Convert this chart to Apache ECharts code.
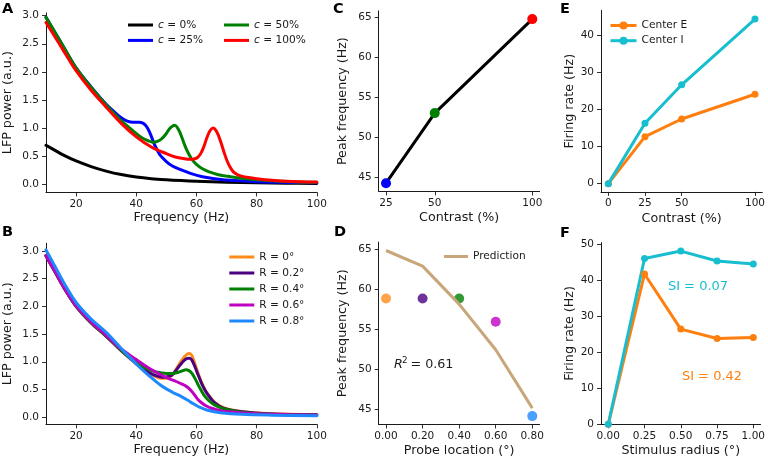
<!DOCTYPE html>
<html>
<head>
<meta charset="utf-8">
<script src="https://cdn.jsdelivr.net/npm/echarts@6/dist/echarts.min.js"></script>
<style>
html, body { margin: 0; padding: 0; background: #fff; }
#main { width: 768px; height: 461px; }
</style>
</head>
<body>
<div id="main"></div>
<script>
// A: LFP spectra for different contrasts  [frequency Hz, power a.u.]
const specC0 = [[10,0.69],[13,0.6],[16,0.51],[20,0.41],[25,0.31],[30,0.23],[35,0.168],[40,0.125],[45,0.095],[50,0.075],[55,0.06],[60,0.048],[70,0.031],[80,0.02],[90,0.014],[100,0.01]]
const specC25 = [[10,2.97],[13,2.7],[16,2.43],[20,2.07],[25,1.73],[30,1.42],[33,1.27],[35,1.18],[37,1.12],[39,1.1],[41,1.1],[42,1.09],[43,1.05],[44,0.97],[45,0.85],[46,0.71],[47,0.6],[48,0.51],[50,0.4],[52,0.32],[55,0.25],[58,0.19],[62,0.13],[66,0.095],[70,0.07],[80,0.042],[90,0.028],[100,0.02]]
const specC50 = [[10,2.97],[13,2.7],[16,2.43],[20,2.07],[25,1.72],[30,1.41],[35,1.13],[40,0.9],[42,0.82],[44,0.77],[45.5,0.745],[47,0.76],[48.5,0.81],[50,0.9],[51,0.98],[52,1.03],[52.8,1.045],[53.6,1.01],[54.5,0.92],[55.5,0.78],[56.5,0.64],[57.5,0.53],[58.5,0.44],[60,0.35],[62,0.27],[64,0.22],[67,0.17],[70,0.14],[75,0.1],[80,0.076],[90,0.046],[100,0.03]]
const specC100 = [[10,2.88],[13,2.62],[16,2.36],[20,2.02],[25,1.67],[30,1.37],[35,1.08],[40,0.84],[45,0.66],[50,0.54],[53,0.48],[56,0.45],[58,0.44],[59.5,0.45],[60.5,0.48],[61.5,0.55],[62.5,0.67],[63.5,0.83],[64.5,0.95],[65.5,1.0],[66.3,0.97],[67.2,0.88],[68.2,0.73],[69.2,0.56],[70.2,0.41],[71.2,0.3],[72.2,0.22],[73.5,0.17],[75,0.14],[78,0.11],[80,0.095],[85,0.068],[90,0.05],[100,0.035]]

// B: LFP spectra for different probe locations
const specR0 = [[10,2.92],[13,2.63],[16,2.34],[20,2.0],[25,1.7],[30,1.46],[35,1.2],[40,0.96],[44,0.8],[47,0.72],[49,0.7],[51,0.72],[52,0.76],[53,0.84],[54,0.93],[55,1.02],[56,1.09],[57,1.14],[57.7,1.15],[58.5,1.11],[59.5,0.96],[60.5,0.8],[61.7,0.63],[63,0.48],[64,0.4],[66,0.27],[69,0.17],[75,0.1],[85,0.06],[100,0.045]]
const specR02 = [[10,2.91],[13,2.62],[16,2.33],[20,2.0],[25,1.7],[30,1.46],[35,1.2],[40,0.97],[44,0.81],[47,0.74],[49,0.72],[51,0.74],[52,0.77],[53,0.83],[54,0.9],[55,0.97],[56,1.03],[57,1.06],[57.7,1.065],[58.5,1.03],[59.5,0.91],[60.5,0.77],[61.7,0.61],[63,0.47],[64,0.39],[66,0.26],[69,0.16],[75,0.095],[85,0.058],[100,0.042]]
const specR04 = [[10,2.92],[13,2.63],[16,2.34],[20,2.0],[25,1.71],[30,1.47],[35,1.21],[40,0.98],[44,0.86],[47,0.81],[50,0.79],[52,0.79],[54,0.81],[55.5,0.84],[56.5,0.855],[57.5,0.84],[58.5,0.79],[59.5,0.7],[60.5,0.59],[61.7,0.47],[63,0.36],[64.5,0.28],[66,0.22],[69,0.15],[75,0.09],[85,0.05],[100,0.035]]
const specR06 = [[10,2.92],[13,2.63],[16,2.34],[20,2.01],[25,1.72],[30,1.48],[35,1.23],[40,1.04],[44,0.89],[48,0.77],[51,0.69],[53,0.65],[55,0.6],[56.5,0.56],[57.5,0.52],[58.5,0.46],[59.5,0.39],[60.5,0.32],[61.7,0.26],[63,0.21],[65,0.16],[67,0.13],[70,0.1],[80,0.06],[100,0.035]]
const specR08 = [[10,3.02],[13,2.72],[16,2.42],[20,2.07],[25,1.77],[30,1.53],[35,1.24],[40,0.96],[44,0.76],[48,0.58],[52,0.45],[55,0.37],[57,0.31],[59,0.24],[61,0.18],[64,0.12],[68,0.08],[75,0.05],[85,0.035],[100,0.025]]

// C: peak frequency vs contrast
const contrastC = [25, 50, 100]
const peakFreqC = [44.2, 53.0, 64.8]
const colorsC = ['#0000ff', '#008000', '#ff0000']

// D: peak frequency vs probe location
const probeLoc = [0, 0.2, 0.4, 0.6, 0.8]
const peakFreqD = [58.9, 58.9, 58.9, 56.0, 44.2]
const predictionD = [64.9, 62.95, 58.2, 52.5, 45.2]

// E: firing rate vs contrast
const contrastE = [0, 25, 50, 100]
const rateCenterE = [0, 12.65, 17.4, 24.05]
const rateCenterI = [0, 16.25, 26.6, 44.3]

// F: firing rate vs stimulus radius
const radiusF = [0, 0.25, 0.5, 0.75, 1.0]
const rateRadE = [0, 41.7, 26.4, 23.8, 24.1]
const rateRadI = [0, 46.0, 48.05, 45.3, 44.45]

// tick positions
const ticksFreq = [20, 40, 60, 80, 100]
const ticksPow = [0, 0.5, 1, 1.5, 2, 2.5, 3]
const ticksContrastC = [25, 50, 100]
const ticksPeak = [45, 50, 55, 60, 65]
const ticksProbe = [0, 0.2, 0.4, 0.6, 0.8]
const ticksContrastE = [0, 25, 50, 100]
const ticksRateE = [0, 10, 20, 30, 40]
const ticksRadius = [0, 0.25, 0.5, 0.75, 1]
const ticksRateF = [0, 10, 20, 30, 40, 50]

const rColors = ['#ff8c1a', '#4b0082', '#008000', '#c000c0', '#1e88ff']
const cE = '#ff7f0e', cI = '#17becf'
const FONT = 'DejaVu Sans'
const INK = '#1a1a1a'

const chart = echarts.init(document.getElementById('main'))

// 轴的通用写法
function axis(grid, min, max, ticks, digits, name, gap, isY) {
  return {
    type: 'value', gridIndex: grid, min: min, max: max,
    name: name, nameLocation: 'middle', nameGap: gap,
    nameTextStyle: { fontSize: 12.7, color: INK, fontFamily: FONT },
    axisLine: { show: true, onZero: false, lineStyle: { color: INK, width: 1 } },
    axisTick: { show: true, length: 4, customValues: ticks, lineStyle: { color: INK, width: 0.9 } },
    axisLabel: {
      customValues: ticks, margin: isY ? 7 : 6, fontSize: 10.5, color: INK, fontFamily: FONT,
      formatter: v => v.toFixed(digits)
    },
    splitLine: { show: false }
  }
}

function spec(name, data, color, xi) {
  return {
    name: name, type: 'line', xAxisIndex: xi, yAxisIndex: xi, data: data,
    showSymbol: false, smooth: 0.35,
    lineStyle: { color: color, width: 3, join: 'round', cap: 'round' }, itemStyle: { color: color }
  }
}

const legendText = { fontSize: 10.6, color: INK, fontFamily: FONT }
const cLegendText = Object.assign({}, legendText, {
  rich: { i: { fontStyle: 'italic', fontSize: 10.6, fontFamily: FONT, color: INK } }
})
const letter = (t, x, y) => ({ type: 'text', x: x, y: y,
  style: { text: t, fontSize: 14.5, fontWeight: 'bold', fontFamily: FONT, fill: '#000' } })

chart.setOption({
  animation: false,
  textStyle: { fontFamily: FONT },
  grid: [
    { left: 45.8, top: 12.9, width: 271, height: 179.5 },
    { left: 45.8, top: 243.3, width: 271, height: 181 },
    { left: 378.7, top: 10.9, width: 160.9, height: 180.5 },
    { left: 378.7, top: 242.1, width: 160.9, height: 182.4 },
    { left: 601, top: 10.4, width: 161.3, height: 181.5 },
    { left: 601, top: 242.6, width: 161.3, height: 181.7 }
  ],
  xAxis: [
    axis(0, 10, 100, ticksFreq, 0, 'Frequency (Hz)', 19, false),
    axis(1, 10, 100, ticksFreq, 0, 'Frequency (Hz)', 19, false),
    axis(2, 21.25, 103.75, ticksContrastC, 0, 'Contrast (%)', 20, false),
    axis(3, -0.04, 0.84, ticksProbe, 2, 'Probe location (°)', 20, false),
    axis(4, -5, 105, ticksContrastE, 0, 'Contrast (%)', 20, false),
    axis(5, -0.05, 1.05, ticksRadius, 2, 'Stimulus radius (°)', 20, false)
  ],
  yAxis: [
    axis(0, -0.15, 3.05, ticksPow, 1, 'LFP power (a.u.)', 32, true),
    axis(1, -0.13, 3.14, ticksPow, 1, 'LFP power (a.u.)', 32, true),
    axis(2, 43.17, 65.83, ticksPeak, 0, 'Peak frequency (Hz)', 30, true),
    axis(3, 43.15, 65.95, ticksPeak, 0, 'Peak frequency (Hz)', 30, true),
    axis(4, -2.22, 46.62, ticksRateE, 0, 'Firing rate (Hz)', 25, true),
    axis(5, 0, 50.4, ticksRateF, 0, 'Firing rate (Hz)', 25, true)
  ],
  legend: [
    { data: ['c = 0%', 'c = 25%'], orient: 'vertical', left: 128, top: 19.5, padding: 0,
      itemWidth: 25, itemHeight: 3, itemGap: 4.4, icon: 'rect', textStyle: cLegendText,
      formatter: n => '{i|c}' + n.slice(1), selectedMode: false },
    { data: ['c = 50%', 'c = 100%'], orient: 'vertical', left: 224, top: 19.5, padding: 0,
      itemWidth: 25, itemHeight: 3, itemGap: 4.4, icon: 'rect', textStyle: cLegendText,
      formatter: n => '{i|c}' + n.slice(1), selectedMode: false },
    { data: ['R = 0°', 'R = 0.2°', 'R = 0.4°', 'R = 0.6°', 'R = 0.8°'], orient: 'vertical',
      left: 229.3, top: 251.5, padding: 0, itemWidth: 25, itemHeight: 3, itemGap: 5,
      icon: 'rect', textStyle: legendText, selectedMode: false },
    { data: ['Prediction'], left: 444, top: 251, padding: 0, itemWidth: 24, itemHeight: 3,
      icon: 'rect', textStyle: legendText, selectedMode: false },
    { data: ['Center E', 'Center I'], orient: 'vertical', left: 609, top: 20, padding: 0,
      itemWidth: 26, itemHeight: 10, itemGap: 4.2, textStyle: legendText, selectedMode: false,
      lineStyle: { width: 3 } }
  ],
  series: [
    spec('c = 0%', specC0, '#000000', 0),
    spec('c = 25%', specC25, '#0000ff', 0),
    spec('c = 50%', specC50, '#008000', 0),
    spec('c = 100%', specC100, '#ff0000', 0),

    spec('R = 0°', specR0, rColors[0], 1),
    spec('R = 0.2°', specR02, rColors[1], 1),
    spec('R = 0.4°', specR04, rColors[2], 1),
    spec('R = 0.6°', specR06, rColors[3], 1),
    spec('R = 0.8°', specR08, rColors[4], 1),

    {
      name: 'peak C', type: 'line', xAxisIndex: 2, yAxisIndex: 2,
      data: contrastC.map((c, i) => ({ value: [c, peakFreqC[i]], itemStyle: { color: colorsC[i] } })),
      symbol: 'circle', symbolSize: 10, lineStyle: { color: '#000', width: 3 }
    },

    {
      name: 'Prediction', type: 'line', xAxisIndex: 3, yAxisIndex: 3,
      data: probeLoc.map((p, i) => [p, predictionD[i]]),
      showSymbol: false, lineStyle: { color: '#c9a67a', width: 3 }, itemStyle: { color: '#c9a67a' }
    },
    {
      name: 'peak D', type: 'scatter', xAxisIndex: 3, yAxisIndex: 3,
      data: probeLoc.map((p, i) => ({ value: [p, peakFreqD[i]], itemStyle: { color: rColors[i] } })),
      symbolSize: 10
    },

    {
      name: 'Center E', type: 'line', xAxisIndex: 4, yAxisIndex: 4,
      data: contrastE.map((c, i) => [c, rateCenterE[i]]),
      symbol: 'circle', symbolSize: 7, lineStyle: { color: cE, width: 3 }, itemStyle: { color: cE }
    },
    {
      name: 'Center I', type: 'line', xAxisIndex: 4, yAxisIndex: 4,
      data: contrastE.map((c, i) => [c, rateCenterI[i]]),
      symbol: 'circle', symbolSize: 7, lineStyle: { color: cI, width: 3 }, itemStyle: { color: cI }
    },

    {
      name: 'E radius', type: 'line', xAxisIndex: 5, yAxisIndex: 5,
      data: radiusF.map((r, i) => [r, rateRadE[i]]),
      symbol: 'circle', symbolSize: 7, lineStyle: { color: cE, width: 3 }, itemStyle: { color: cE }
    },
    {
      name: 'I radius', type: 'line', xAxisIndex: 5, yAxisIndex: 5,
      data: radiusF.map((r, i) => [r, rateRadI[i]]),
      symbol: 'circle', symbolSize: 7, lineStyle: { color: cI, width: 3 }, itemStyle: { color: cI }
    }
  ],
  graphic: [
    letter('A', 2, 2), letter('B', 2, 225), letter('C', 333, 2),
    letter('D', 334, 225), letter('E', 560, 2), letter('F', 560, 226),
    { type: 'text', x: 394, y: 365, style: { text: 'R', fontSize: 12.7, fontStyle: 'italic', fontFamily: FONT, fill: INK, verticalAlign: 'middle' } },
    { type: 'text', x: 402, y: 361, style: { text: '2', fontSize: 8.8, fontFamily: FONT, fill: INK, verticalAlign: 'middle' } },
    { type: 'text', x: 410.5, y: 365, style: { text: '= 0.61', fontSize: 12.7, fontFamily: FONT, fill: INK, verticalAlign: 'middle' } },
    { type: 'text', x: 698, y: 287, style: { text: 'SI = 0.07', fontSize: 13, fontFamily: FONT, fill: cI, align: 'center', verticalAlign: 'middle' } },
    { type: 'text', x: 712, y: 377, style: { text: 'SI = 0.42', fontSize: 13, fontFamily: FONT, fill: cE, align: 'center', verticalAlign: 'middle' } }
  ]
})
</script>
</body>
</html>
